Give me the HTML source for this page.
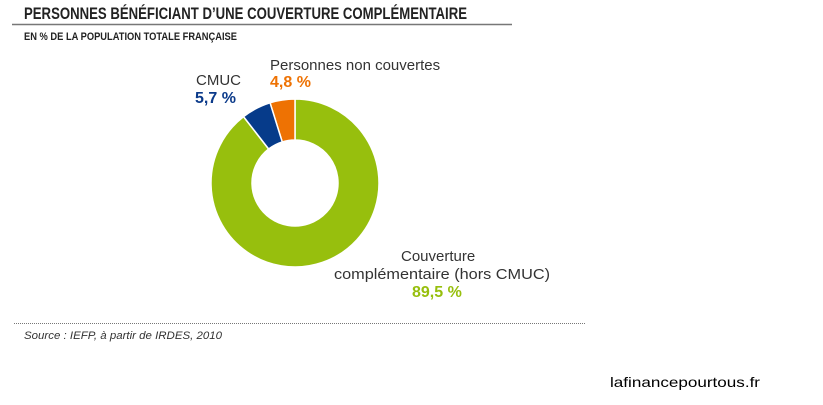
<!DOCTYPE html>
<html><head><meta charset="utf-8"><style>
body{margin:0;background:#fff;width:823px;height:405px;overflow:hidden;}
svg{display:block}
</style></head><body>
<svg width="823" height="405" xmlns="http://www.w3.org/2000/svg" font-family="Liberation Sans, sans-serif">
<text x="24" y="19" font-size="16.5" font-weight="bold" fill="#222" textLength="443" lengthAdjust="spacingAndGlyphs">PERSONNES BÉNÉFICIANT D’UNE COUVERTURE COMPLÉMENTAIRE</text>
<line x1="12" y1="24.5" x2="512" y2="24.5" stroke="#777" stroke-width="1.5"/>
<text x="24" y="40" font-size="11" font-weight="bold" fill="#222" textLength="213" lengthAdjust="spacingAndGlyphs">EN % DE LA POPULATION TOTALE FRANÇAISE</text>
<path d="M295,99 A84,84 0 1 1 243.52,116.62 L268.65,149.02 A43,43 0 1 0 295,140 Z" fill="#97bf0d" stroke="#fff" stroke-width="1.5"/>
<path d="M270.05,102.79 A84,84 0 0 1 295,99 L295,140 A43,43 0 0 0 282.23,141.94 Z" fill="#ee7203" stroke="#fff" stroke-width="1.5"/>
<path d="M243.52,116.62 A84,84 0 0 1 270.05,102.79 L282.23,141.94 A43,43 0 0 0 268.65,149.02 Z" fill="#063b8a" stroke="#fff" stroke-width="1.5"/>
<text x="196" y="85" font-size="15" fill="#333">CMUC</text>
<text x="195" y="103" font-size="16" font-weight="bold" fill="#0b3a8a">5,7 %</text>
<text x="270" y="70" font-size="15" fill="#333">Personnes non couvertes</text>
<text x="270" y="87" font-size="16" font-weight="bold" fill="#ee7203">4,8 %</text>
<text x="401" y="261" font-size="15" fill="#333">Couverture</text>
<text x="334" y="279" font-size="15" fill="#333" textLength="216" lengthAdjust="spacingAndGlyphs">complémentaire (hors CMUC)</text>
<text x="412" y="297" font-size="16" font-weight="bold" fill="#97bf0d">89,5 %</text>
<line x1="14" y1="323.5" x2="585" y2="323.5" stroke="#777" stroke-width="1" stroke-dasharray="1,1"/>
<text x="24" y="339" font-size="11" font-style="italic" fill="#333" textLength="198" lengthAdjust="spacingAndGlyphs">Source : IEFP, à partir de IRDES, 2010</text>
<text x="610" y="387" font-size="14" fill="#000" textLength="150" lengthAdjust="spacingAndGlyphs">lafinancepourtous.fr</text>
</svg>
</body></html>
